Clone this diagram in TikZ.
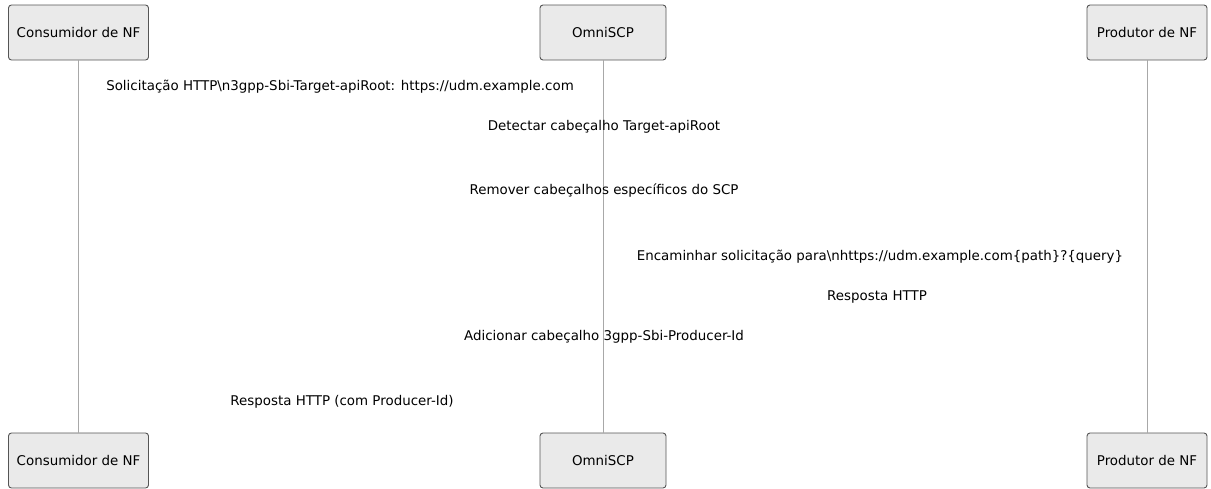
\documentclass[tikz,border=0pt]{standalone}
\usepackage{fontspec}
\setmainfont{DejaVu Sans}
\usetikzlibrary{positioning}
\definecolor{boxfill}{HTML}{EAEAEA}
\definecolor{boxline}{HTML}{555555}
\definecolor{lifegray}{HTML}{A8A8A8}

\begin{document}
\begin{tikzpicture}
          [x=1pt,y=-1pt,every node/.style={font=\fontsize{13.4}{16}\selectfont,inner sep=0pt},
           actor/.style={draw=boxline,fill=boxfill,line width=0.9pt,rounded corners=3pt,minimum height=55pt},
           lifeline/.style={draw=lifegray,line width=0.9pt}]
          \useasboundingbox (0,0) rectangle (1211,488);
          \node[actor,minimum width=140pt] (nfc)  at (78.5,32.5) {Consumidor de NF};
          \node[actor,minimum width=126pt] (scp)  at (603,32.5)  {OmniSCP};
          \node[actor,minimum width=120pt] (nfp)  at (1147,32.5) {Produtor de NF};
          \node[actor,minimum width=140pt] (nfc2) at (78.5,460.5) {Consumidor de NF};
          \node[actor,minimum width=126pt] (scp2) at (603,460.5)  {OmniSCP};
          \node[actor,minimum width=120pt] (nfp2) at (1147,460.5) {Produtor de NF};

          \foreach \from/\to in {nfc/nfc2,scp/scp2,nfp/nfp2}
            \draw[lifeline] (\from.south) -- (\to.north);

          \node (req)    at (340,87)  {Solicitação HTTP\textbackslash n3gpp-Sbi-Target-apiRoot: https://udm.example.com};
          \node (detect) at (604,127) {Detectar cabeçalho Target-apiRoot};
          \node (strip)  at (604,191) {Remover cabeçalhos específicos do SCP};
          \node (fwd)    at (880,257) {Encaminhar solicitação para\textbackslash nhttps://udm.example.com\{path\}?\{query\}};
          \node (resp)   at (877,297) {Resposta HTTP};
          \node (addhdr) at (604,337) {Adicionar cabeçalho 3gpp-Sbi-Producer-Id};
          \node (final)  at (342,402) {Resposta HTTP (com Producer-Id)};
        \end{tikzpicture}
\end{document}
